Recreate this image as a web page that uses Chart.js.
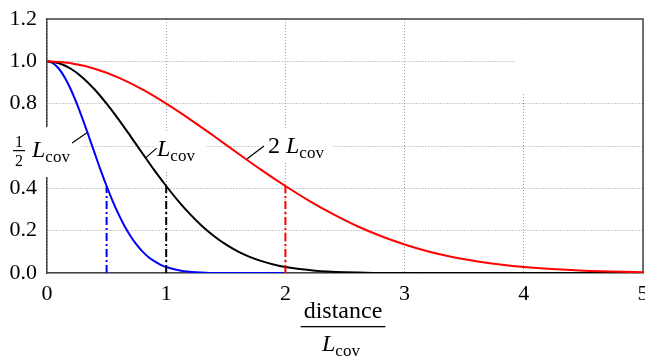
<!DOCTYPE html>
<html>
<head>
<meta charset="utf-8">
<script src="https://cdn.jsdelivr.net/npm/chart.js@4.4.1/dist/chart.umd.min.js"></script>
<style>
  html, body { margin: 0; padding: 0; background: #fff; }
</style>
</head>
<body>
<canvas id="covChart" width="645" height="361"></canvas>
<script>
// correlation vs distance/L_cov
const xHalf = [0, 0.05, 0.1, 0.15, 0.2, 0.25, 0.3, 0.35, 0.4, 0.45, 0.5, 0.55, 0.6, 0.65, 0.7, 0.75, 0.8, 0.85, 0.9, 0.95, 1.0, 1.125, 1.25, 1.5, 2.0];
const yHalf = [1, 0.991, 0.965, 0.923, 0.867, 0.800, 0.726, 0.647, 0.566, 0.486, 0.411, 0.341, 0.278, 0.222, 0.175, 0.135, 0.102, 0.076, 0.056, 0.040, 0.028, 0.011, 0.004, 0, 0];

const xOne = [0, 0.1, 0.2, 0.3, 0.4, 0.5, 0.6, 0.7, 0.8, 0.9, 1.0, 1.1, 1.2, 1.3, 1.4, 1.5, 1.6, 1.7, 1.8, 1.9, 2.0, 2.25, 2.5, 3.0, 4.0, 5.0];
const yOne = [1, 0.991, 0.965, 0.923, 0.867, 0.800, 0.726, 0.647, 0.566, 0.486, 0.411, 0.341, 0.278, 0.222, 0.175, 0.135, 0.102, 0.076, 0.056, 0.040, 0.028, 0.011, 0.004, 0, 0, 0];

const xTwo = [0, 0.2, 0.4, 0.6, 0.8, 1.0, 1.2, 1.4, 1.6, 1.8, 2.0, 2.2, 2.4, 2.6, 2.8, 3.0, 3.2, 3.4, 3.6, 3.8, 4.0, 4.5, 5.0];
const yTwo = [1, 0.991, 0.965, 0.923, 0.867, 0.800, 0.726, 0.647, 0.566, 0.486, 0.411, 0.341, 0.278, 0.222, 0.175, 0.135, 0.102, 0.076, 0.056, 0.040, 0.028, 0.011, 0.004];

// dash-dot markers where each curve crosses its own L
const markX = [0.5, 1, 2];
const markY = [0.411, 0.411, 0.411];

const curveColors = ['#0000ff', '#000000', '#ff0000'];

const serif = '"Liberation Serif", "Times New Roman", serif';

function pts(xs, ys) {
    return xs.map((x, i) => ({x: x, y: ys[i]}));
}

const curves = [pts(xHalf, yHalf), pts(xOne, yOne), pts(xTwo, yTwo)];

const datasets = [];
curves.forEach((d, i) => {
    datasets.push({
        data: d,
        borderColor: curveColors[i],
        borderWidth: 2,
        showLine: true,
        pointRadius: 0,
        cubicInterpolationMode: 'monotone',
        order: 3 - i   // red on top, blue underneath
    });
});
markX.forEach((x, i) => {
    datasets.push({
        data: [{x: x, y: 0}, {x: x, y: markY[i]}],
        borderColor: curveColors[i],
        borderWidth: 2,
        borderDash: [8, 3, 2, 3],
        showLine: true,
        pointRadius: 0,
        order: 0
    });
});

// italic L with subscript "cov"
function drawLcov(ctx, x, y) {
    ctx.font = 'italic 24px ' + serif;
    ctx.fillText('L', x, y);
    const w = ctx.measureText('L').width;
    ctx.font = '17px ' + serif;
    ctx.fillText('cov', x + w, y + 5);
    return x + w + ctx.measureText('cov').width;
}

const annotations = {
    id: 'annotations',
    beforeDatasetsDraw(chart) {
        const {ctx, chartArea, scales} = chart;
        const {x, y} = scales;
        const {left, right, top, bottom} = chartArea;
        ctx.save();

        // frame: top and right edges
        ctx.strokeStyle = '#444';
        ctx.lineWidth = 1.5;
        ctx.beginPath();
        ctx.moveTo(left, top);
        ctx.lineTo(right, top);
        ctx.lineTo(right, bottom);
        ctx.stroke();

        // empty box in the upper right corner
        ctx.fillStyle = '#fff';
        const bx = x.getPixelForValue(3.93);
        const by = y.getPixelForValue(0.85);
        ctx.fillRect(bx, top + 1, right - 1 - bx, by - top - 1);

        ctx.textAlign = 'left';
        ctx.textBaseline = 'alphabetic';

        // 1/2 L_cov label
        let fx = x.getPixelForValue(-0.235);
        let base = y.getPixelForValue(0.548);
        ctx.fillStyle = '#fff';
        ctx.fillRect(0, base - 30, fx + 62, 50);
        ctx.fillStyle = '#000';
        ctx.font = '16px ' + serif;
        ctx.textAlign = 'center';
        ctx.fillText('1', fx, base - 10);
        ctx.fillText('2', fx, base + 9);
        ctx.fillRect(fx - 6, base - 7, 12, 1.2);
        ctx.textAlign = 'left';
        drawLcov(ctx, fx + 13, base);

        // L_cov label
        let lx = x.getPixelForValue(0.923);
        base = y.getPixelForValue(0.553);
        ctx.fillStyle = '#fff';
        ctx.fillRect(lx - 2, base - 23, 52, 37);
        ctx.fillStyle = '#000';
        drawLcov(ctx, lx, base);

        // 2 L_cov label
        lx = x.getPixelForValue(1.854);
        base = y.getPixelForValue(0.567);
        ctx.fillStyle = '#fff';
        ctx.fillRect(lx - 8, base - 25, 73, 35);
        ctx.fillStyle = '#000';
        ctx.font = '24px ' + serif;
        ctx.fillText('2', lx, base);
        drawLcov(ctx, lx + 18, base);

        // leader lines from the curves to the labels
        const leaders = [[0.21, 0.614, 0.344, 0.666], [0.83, 0.545, 0.92, 0.59], [1.68, 0.54, 1.82, 0.60]];
        ctx.strokeStyle = '#000';
        ctx.lineWidth = 1.2;
        leaders.forEach(l => {
            ctx.beginPath();
            ctx.moveTo(x.getPixelForValue(l[0]), y.getPixelForValue(l[1]));
            ctx.lineTo(x.getPixelForValue(l[2]), y.getPixelForValue(l[3]));
            ctx.stroke();
        });

        // x axis title: distance / L_cov
        const cx = (left + right) / 2 - 2;
        ctx.fillStyle = '#000';
        ctx.font = '24px ' + serif;
        ctx.textAlign = 'center';
        ctx.fillText('distance', cx, bottom + 45);
        const dw = ctx.measureText('distance').width;
        ctx.fillRect(cx - dw / 2 - 3, bottom + 53, dw + 6, 1.3);
        ctx.textAlign = 'left';
        drawLcov(ctx, cx - 21, bottom + 78);

        ctx.restore();
    }
};

const covConfig = {
    type: 'scatter',
    data: {datasets: datasets},
    options: {
        responsive: false,
        animation: false,
        devicePixelRatio: 1,
        layout: {padding: {top: 19, right: 2, left: 0, bottom: 0}},
        plugins: {
            legend: {display: false},
            tooltip: {enabled: false}
        },
        scales: {
            x: {
                min: 0,
                max: 5,
                ticks: {
                    stepSize: 1,
                    color: '#000',
                    padding: 8,
                    maxRotation: 0,
                    font: {family: serif, size: 22}
                },
                grid: {color: '#999', lineWidth: 1, drawTicks: false},
                border: {color: '#444', width: 1.5, dash: [1, 2]},
                afterFit(scale) {
                    scale.height = 88;
                    scale.paddingLeft = 0;
                    scale.paddingRight = 0;
                }
            },
            y: {
                min: 0,
                max: 1.2,
                ticks: {
                    stepSize: 0.2,
                    color: '#000',
                    padding: 10,
                    font: {family: serif, size: 22},
                    callback: v => v.toFixed(1)
                },
                grid: {color: '#999', lineWidth: 1, drawTicks: false},
                border: {color: '#444', width: 1.5, dash: [1, 2]},
                afterFit(scale) {
                    scale.width = 47;
                    scale.paddingTop = 0;
                    scale.paddingBottom = 0;
                }
            }
        }
    },
    plugins: [annotations]
};

const covChart = new Chart(document.getElementById('covChart'), covConfig);
</script>
</body>
</html>
